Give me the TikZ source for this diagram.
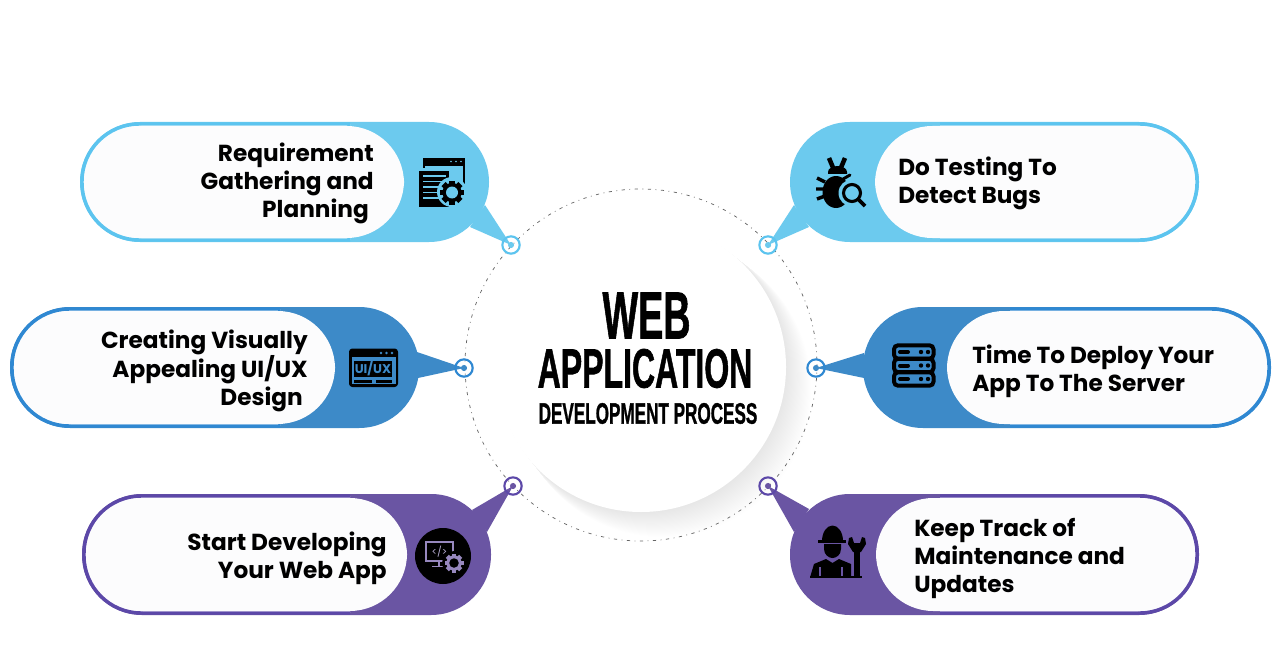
\documentclass[tikz,border=0pt]{standalone}
\usepackage{graphicx}
\usepackage{fontspec}
\setmainfont{Poppins}
\newfontfamily\titlefont[FakeBold=1.3]{Liberation Sans Bold}
\definecolor{skyF}{HTML}{6CCAEE}\definecolor{skyS}{HTML}{5CC4EF}
\definecolor{bluF}{HTML}{3D8AC8}\definecolor{bluS}{HTML}{2F88D2}
\definecolor{purF}{HTML}{6A55A3}\definecolor{purS}{HTML}{5C48A8}
\definecolor{innerW}{HTML}{FCFCFD}
\tikzset{
  x=0.75pt,y=-0.75pt,
  lbl/.style={inner sep=0pt,font=\fontsize{17.4}{21}\selectfont\bfseries,text=black},
  lblR/.style={lbl,align=right,anchor=east},
  lblL/.style={lbl,align=left,anchor=west},
  ttl/.style={inner sep=0pt,text=black,font=\titlefont},
  ring/.style={circle,draw=#1,line width=1.6pt,minimum size=13pt,inner sep=0pt},
  core/.style={circle,fill=#1,minimum size=4.6pt,inner sep=0pt},
  icl/.style={draw=black,line cap=round,line join=round},
}
% gear: cx cy outer-radius body colour hole colour
\newcommand{\gearicon}[5]{%
  \foreach \a in {0,45,...,315}{\fill[#4,rotate around={\a:(#1,#2)}] (#1-#3*0.24,#2) rectangle (#1+#3*0.24,#2-#3);}
  \fill[#4] (#1,#2) circle[radius=#3*0.8];
  \fill[#5] (#1,#2) circle[radius=#3*0.5];}
\begin{document}
\begin{tikzpicture}
\useasboundingbox (0,0) rectangle (1280,649);
\fill[white] (0,0) rectangle (1280,649);
% centre disc shadow, falling to the lower right
\foreach \i in {1,2,...,24}{\fill[black,opacity=0.0045] (641+\i*0.9,367+\i*0.9) circle[radius=145+\i*0.15];}
\draw[draw=black!60,line width=0.55pt,dash pattern=on 2.4pt off 3.4pt on 0.6pt off 3.4pt] (641,365) circle[radius=176];
\node[circle,fill=white,minimum size=217.5pt,inner sep=0pt] (hub) at (641,367) {};
% anchors for tips
\coordinate (tipA) at (511,245);\coordinate (tipB) at (464,368);\coordinate (tipC) at (513,486);
\coordinate (tipD) at (768,245);\coordinate (tipE) at (816,368);\coordinate (tipF) at (768,486);
% ---------- pill A
\fill[skyF,rounded corners=45pt] (80,122) rectangle (489,242);
\fill[skyF] (tipA) -- (485,205) -- (470,227) -- cycle;
\begin{scope}\clip (70,110) rectangle (350,250);
\draw[skyS,line width=2.6pt,fill=innerW,rounded corners=43pt] (82,124) rectangle (404,240);
\end{scope}
\fill[innerW,rounded corners=43pt] (84,126) rectangle (404,238);
% ---------- pill B
\fill[bluF,rounded corners=45pt] (10,307) rectangle (419,428);
\fill[bluF] (tipB) -- (417,352) -- (418,378) -- cycle;
\begin{scope}\clip (0,295) rectangle (280,440);
\draw[bluS,line width=2.6pt,fill=innerW,rounded corners=43pt] (12,309) rectangle (335,426);
\end{scope}
\fill[innerW,rounded corners=43pt] (14,311) rectangle (335,424);
% ---------- pill C
\fill[purF,rounded corners=45pt] (82,494) rectangle (491,615);
\fill[purF] (tipC) -- (472,510) -- (487,532) -- cycle;
\begin{scope}\clip (70,485) rectangle (350,625);
\draw[purS,line width=2.6pt,fill=innerW,rounded corners=43pt] (84,496) rectangle (407,613);
\end{scope}
\fill[innerW,rounded corners=43pt] (86,498) rectangle (407,611);
% ---------- pill D
\fill[skyF,rounded corners=45pt] (790,122) rectangle (1199,242);
\fill[skyF] (tipD) -- (794,205) -- (809,227) -- cycle;
\begin{scope}\clip (940,110) rectangle (1210,250);
\draw[skyS,line width=2.6pt,fill=innerW,rounded corners=43pt] (875,124) rectangle (1197,240);
\end{scope}
\fill[innerW,rounded corners=43pt] (875,126) rectangle (1195,238);
% ---------- pill E
\fill[bluF,rounded corners=45pt] (863,307) rectangle (1271,428);
\fill[bluF] (tipE) -- (864,353) -- (864,378) -- cycle;
\begin{scope}\clip (1010,295) rectangle (1280,440);
\draw[bluS,line width=2.6pt,fill=innerW,rounded corners=43pt] (947,309) rectangle (1269,426);
\end{scope}
\fill[innerW,rounded corners=43pt] (947,311) rectangle (1267,424);
% ---------- pill F
\fill[purF,rounded corners=45pt] (790,494) rectangle (1199,615);
\fill[purF] (tipF) -- (809,509) -- (794,532) -- cycle;
\begin{scope}\clip (940,485) rectangle (1210,625);
\draw[purS,line width=2.6pt,fill=innerW,rounded corners=43pt] (876,496) rectangle (1197,613);
\end{scope}
\fill[innerW,rounded corners=43pt] (876,498) rectangle (1195,611);
% rings
\node[ring=skyS] (ringA) at (tipA) {};\node[core=skyF] (coreA) at (tipA) {};
\node[ring=bluS] (ringB) at (tipB) {};\node[core=bluF] (coreB) at (tipB) {};
\node[ring=purS] (ringC) at (tipC) {};\node[core=purF] (coreC) at (tipC) {};
\node[ring=skyS] (ringD) at (tipD) {};\node[core=skyF] (coreD) at (tipD) {};
\node[ring=bluS] (ringE) at (tipE) {};\node[core=bluF] (coreE) at (tipE) {};
\node[ring=purS] (ringF) at (tipF) {};\node[core=purF] (coreF) at (tipF) {};
% labels
\node[lblR] (textA) at (374,183.5) {Requirement\\Gathering and\\Planning\hspace*{3.7pt}};
\node[lblR] (textB) at (308,371) {Creating Visually\\Appealing UI/UX\\Design\hspace*{3.7pt}};
\node[lblR] (textC) at (387,558.5) {Start Developing\\Your Web App};
\node[lblL] (textD) at (898,183.5) {Do Testing To\\Detect Bugs};
\node[lblL] (textE) at (972,371.5) {Time To Deploy Your\\App To The Server};
\node[lblL] (textF) at (914,558.5) {Keep Track of\\Maintenance and\\Updates};
% title
\node[ttl] (t1) at (646.5,315.5) {\resizebox{66pt}{34.5pt}{WEB}};
\node[ttl] (t2) at (645,368.5) {\resizebox{161pt}{29pt}{APPLICATION}};
\node[ttl] (t3) at (648,413.5) {\resizebox{164pt}{15.5pt}{DEVELOPMENT PROCESS}};
% icon A
\fill[black] (423,158) rectangle (465,200);
\fill[skyF] (425,166) rectangle (463,198);
\foreach \x in {451,456,461}{\fill[skyF] (\x,161.5) circle[radius=0.9];}
\fill[skyF] (416,168) rectangle (452,211);
\fill[black] (419,171) rectangle (449,207);
\foreach \y in {176,181.5,187,192.5,198}{\fill[skyF] (423,\y-0.8) rectangle (446,\y+0.8);}
\fill[skyF] (452,192) circle[radius=15];
\gearicon{452}{192.5}{12}{black}{skyF}
% icon B
\fill[black,rounded corners=2.5pt] (349,348.5) rectangle (398,387);
\fill[bluF] (352,357) rectangle (396,384);
\foreach \x in {381,386.5,392}{\fill[bluF] (\x,353) circle[radius=1.3];}
\node[fill=black,inner sep=0pt,minimum width=28.5pt,minimum height=12pt,text=bluF,font=\fontsize{9.5}{10}\selectfont\bfseries] (uiux) at (373,369) {UI/UX};
\fill[black] (354,380) rectangle (372,382.5);\fill[black] (376,380) rectangle (392,382.5);
% icon C
\node[circle,fill=black,minimum size=42pt,inner sep=0pt] (iconC) at (443,556) {};
\draw[purF!70!white,line width=1pt] (426,542) rectangle (453,561);
\draw[purF!70!white,line width=1pt] (439,561) -- (439,566) (432,566.5) -- (447,566.5);
\node[text=purF!50!white,inner sep=0pt,font=\fontsize{7.5}{8}\selectfont] (code) at (439.5,551.5) {</>};
\fill[black] (454,563) circle[radius=12];
\gearicon{454}{563}{9.5}{purF!70!white}{black}
% icon D bug
\draw[icl,line width=3.4pt,line cap=butt] (829,158) -- (834,170) (845,158) -- (840,170);
\fill[black] (828,172) arc[start angle=180,end angle=360,x radius=9.5,y radius=6] -- (847,174) -- (828,174) -- cycle;
\fill[black] (836,192) ellipse[x radius=13.5,y radius=16];
\draw[icl,line width=2.6pt,line cap=butt] (817,178) -- (825,182) (816,189) -- (824,189) (817,199) -- (825,196);
\fill[skyF] (852,193) circle[radius=13.5];
\draw[skyF,line width=1.2pt] (824,174.5) -- (850,174.5);
\draw[black,line width=2.2pt,line cap=round] (838,182) -- (850,175);
\draw[black,line width=2.3pt] (852,193) circle[radius=8.5];
\draw[black,line width=2.8pt] (858.5,199.5) -- (865,206);
% icon E server
\foreach \y in {352,365.5,379}{
  \draw[black,line width=3pt,fill=bluF,rounded corners=3pt] (894,\y-6.7) rectangle (933.5,\y+6.7);
  \draw[black,line width=3pt,line cap=round] (900,\y) -- (908,\y);
  \fill[black] (921,\y) circle[radius=2.2] (928,\y) circle[radius=2.2];
}
% icon F worker
\fill[black] (822,541) arc[start angle=180,end angle=360,x radius=10.5,y radius=15.5] -- cycle;
\fill[black] (818,540) rectangle (846,542.5);
\fill[black] (824,544) -- (841,544) -- (841,549) .. controls (841,555) and (836,558) .. (832.5,558) .. controls (829,558) and (824,555) .. (824,549) -- cycle;
\fill[black] (810,577.5) -- (814,564) -- (826,559) -- (832.5,563) -- (839,559) -- (851,564) -- (851,577.5) -- cycle;
\draw[purF,line width=0.8pt] (820,567) -- (820,577.5) (842,567) -- (842,577.5);
\fill[black] (854,552) rectangle (860,577.5);
\fill[black] (810,576) rectangle (862,578);
\fill[black] (849,538) -- (852,537) -- (854,543) -- (860,543) -- (862,537) -- (865,538) -- (866,544) -- (861,552) -- (853,552) -- (848,544) -- cycle;
\end{tikzpicture}
\end{document}
